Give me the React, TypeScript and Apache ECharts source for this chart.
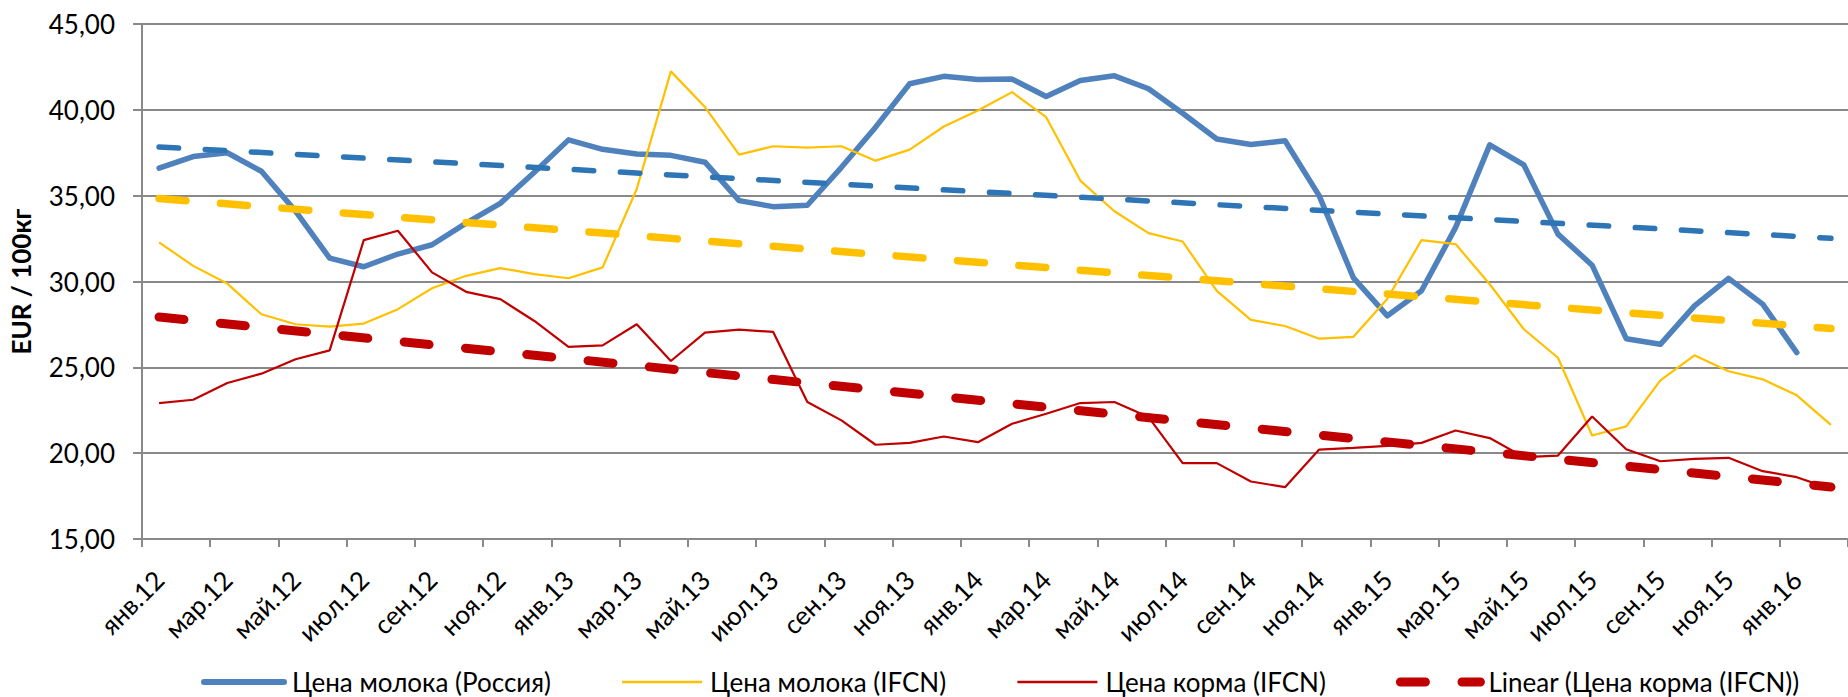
import React, { useEffect, useRef } from "react";
import * as echarts from "echarts";

const categories = [
  "янв.12","фев.12","мар.12","апр.12","май.12","июн.12","июл.12","авг.12","сен.12","окт.12","ноя.12","дек.12",
  "янв.13","фев.13","мар.13","апр.13","май.13","июн.13","июл.13","авг.13","сен.13","окт.13","ноя.13","дек.13",
  "янв.14","фев.14","мар.14","апр.14","май.14","июн.14","июл.14","авг.14","сен.14","окт.14","ноя.14","дек.14",
  "янв.15","фев.15","мар.15","апр.15","май.15","июн.15","июл.15","авг.15","сен.15","окт.15","ноя.15","дек.15",
  "янв.16","фев.16",
];

const milkRussia = [
  36.6, 37.28, 37.5, 36.42, 34.1, 31.36, 30.86, 31.6, 32.14, 33.4, 34.55, 36.36,
  38.25, 37.7, 37.43, 37.35, 36.95, 34.71, 34.36, 34.44, 36.65, 38.99, 41.52, 41.95,
  41.77, 41.79, 40.78, 41.71, 41.98, 41.23, 39.8, 38.3, 37.98, 38.2, 35.0, 30.23,
  28.0, 29.46, 33.15, 37.96, 36.79, 32.76, 30.95, 26.67, 26.34, 28.58, 30.18, 28.68,
  25.86, null,
];

const milkIFCN = [
  32.28, 30.91, 29.88, 28.09, 27.51, 27.37, 27.55, 28.39, 29.61, 30.33, 30.78, 30.43,
  30.19, 30.82, 35.39, 42.24, 40.16, 37.39, 37.88, 37.8, 37.88, 37.04, 37.68, 39.03,
  39.96, 41.03, 39.57, 35.88, 34.09, 32.82, 32.33, 29.45, 27.76, 27.41, 26.67, 26.77,
  29.0, 32.41, 32.18, 29.84, 27.22, 25.56, 21.03, 21.56, 24.24, 25.7, 24.77, 24.3,
  23.37, 21.65,
];

const feedIFCN = [
  22.92, 23.11, 24.09, 24.63, 25.47, 25.99, 32.41, 32.96, 30.53, 29.4, 28.97, 27.7,
  26.19, 26.28, 27.51, 25.37, 27.02, 27.2, 27.06, 22.98, 21.91, 20.49, 20.6, 20.97,
  20.64, 21.71, 22.3, 22.92, 22.98, 22.1, 19.42, 19.42, 18.35, 18.02, 20.21, 20.31,
  20.43, 20.6, 21.32, 20.88, 19.77, 19.86, 22.14, 20.23, 19.53, 19.67, 19.73, 18.95,
  18.6, 17.92,
];

// trend line endpoints [start, end]
const trendMilkRussia = [37.84, 32.52];
const trendMilkIFCN = [34.83, 27.26];
const trendFeedIFCN = [27.93, 18.03];

const seriesNames = [
  "Цена молока (Россия)",
  "Цена молока (IFCN)",
  "Цена корма (IFCN)",
  "Linear (Цена корма (IFCN))",
];

const yTicks = { min: 15, max: 45, interval: 5 };
const yAxisTitle = "EUR / 100кг";

const FONT = "Lato, 'Open Sans', sans-serif";

const BLUE = "#4F81BD";
const BLUE_TREND = "#2E75B6";
const YELLOW = "#FFC000";
const RED = "#C00000";

export default function App() {
  const ref = useRef<HTMLDivElement>(null);
  useEffect(() => {
    if (!ref.current) return;
    const chart = echarts.init(ref.current, null, { renderer: "svg" });
    const last = categories.length - 1;
    const trend = (t: number[]) => [
      [categories[0], t[0]],
      [categories[last], t[1]],
    ];
    const hidden = { color: "rgba(0,0,0,0)", opacity: 0, borderWidth: 0 };
    chart.setOption({
      animation: false,
      textStyle: { fontFamily: FONT },
      grid: { left: 142, top: 24, right: -6, bottom: 158, containLabel: false },
      legend: {
        left: 196,
        top: 664,
        itemWidth: 80,
        itemHeight: 14,
        itemGap: 70,
        itemStyle: hidden,
        textStyle: { fontSize: 26, color: "#000", fontFamily: FONT, padding: [0, 0, 0, 3] },
        data: [
          { name: seriesNames[0], itemStyle: hidden, lineStyle: { color: BLUE, width: 6, cap: "round", type: "solid" } },
          { name: seriesNames[1], itemStyle: hidden, lineStyle: { color: YELLOW, width: 2.5, type: "solid" } },
          { name: seriesNames[2], itemStyle: hidden, lineStyle: { color: RED, width: 2.5, type: "solid" } },
          { name: seriesNames[3], itemStyle: hidden, lineStyle: { color: RED, width: 9, cap: "round", type: [25, 36.6] } },
        ],
      },
      xAxis: {
        type: "category",
        data: categories,
        boundaryGap: true,
        axisLine: { lineStyle: { color: "#898989", width: 2 } },
        axisTick: { show: true, interval: 1, length: 8, lineStyle: { color: "#898989", width: 2 } },
        axisLabel: {
          interval: 1,
          rotate: 45,
          margin: 36,
          fontSize: 26,
          color: "#000",
          fontFamily: FONT,
        },
        splitLine: { show: false },
      },
      yAxis: {
        type: "value",
        min: yTicks.min,
        max: yTicks.max,
        interval: yTicks.interval,
        name: yAxisTitle,
        nameLocation: "middle",
        nameGap: 108,
        nameTextStyle: { fontSize: 26, fontWeight: "bold", color: "#000", fontFamily: FONT },
        axisLine: { show: true, lineStyle: { color: "#898989", width: 2 } },
        axisTick: { show: true, length: 9, lineStyle: { color: "#898989", width: 2 } },
        axisLabel: {
          margin: 27,
          fontSize: 26,
          color: "#000",
          fontFamily: FONT,
          formatter: (v: number) => v.toFixed(2).replace(".", ","),
        },
        splitLine: { lineStyle: { color: "#898989", width: 2 } },
      },
      series: [
        {
          name: seriesNames[0],
          type: "line",
          data: milkRussia,
          symbol: "none",
          lineStyle: { color: BLUE, width: 5.5, join: "round", cap: "round" },
          itemStyle: { color: BLUE },
          z: 3,
        },
        {
          name: seriesNames[1],
          type: "line",
          data: milkIFCN,
          symbol: "none",
          lineStyle: { color: YELLOW, width: 2.2 },
          itemStyle: { color: YELLOW },
          z: 3,
        },
        {
          name: seriesNames[2],
          type: "line",
          data: feedIFCN,
          symbol: "none",
          lineStyle: { color: RED, width: 2.2 },
          itemStyle: { color: RED },
          z: 3,
        },
        {
          name: "Linear (Цена молока (Россия))",
          type: "line",
          data: trend(trendMilkRussia),
          symbol: "none",
          lineStyle: { color: BLUE_TREND, width: 5.5, type: [19.5, 26.7], cap: "round" },
          itemStyle: { color: BLUE_TREND },
          z: 4,
        },
        {
          name: "Linear (Цена молока (IFCN))",
          type: "line",
          data: trend(trendMilkIFCN),
          symbol: "none",
          lineStyle: { color: YELLOW, width: 7.5, type: [27, 34.6], cap: "round" },
          itemStyle: { color: YELLOW },
          z: 4,
        },
        {
          name: seriesNames[3],
          type: "line",
          data: trend(trendFeedIFCN),
          symbol: "none",
          lineStyle: { color: RED, width: 9, type: [25, 36.6], cap: "round" },
          itemStyle: { color: RED },
          z: 4,
        },
      ],
    });
    return () => chart.dispose();
  }, []);
  return (
    <div style={{ position: "fixed", left: 0, top: 0, width: 1848, height: 697, overflow: "hidden", background: "#fff" }}>
      <div ref={ref} style={{ width: 1848, height: 697 }} />
    </div>
  );
}
